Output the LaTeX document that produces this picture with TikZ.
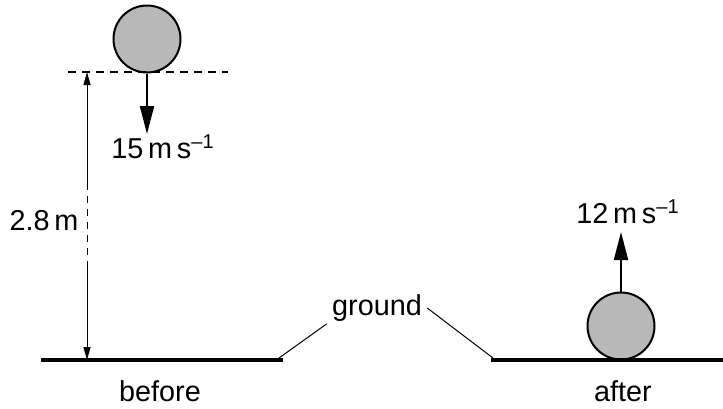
\documentclass[tikz,border=0pt]{standalone}
\usepackage{fontspec}
\setmainfont{Liberation Sans}
\usetikzlibrary{arrows.meta}
\definecolor{ballgray}{HTML}{B8B8B8}

\begin{document}
\begin{tikzpicture}[x=0.5pt,y=-0.5pt]

  \tikzstyle{ball}=[draw,circle,fill=ballgray,line width=1pt,minimum size=33.5pt,inner sep=0]
  \tikzstyle{ground}=[line width=2pt]
  \tikzstyle{velocity}=[line width=1pt,-{Triangle[width=7pt,length=14pt]}]
  \tikzstyle{dimline}=[line width=0.5pt]
  \tikzstyle{leader}=[line width=0.5pt]
  \tikzstyle{label}=[inner sep=1pt,font=\fontsize{14.4}{17}\selectfont]

  \useasboundingbox (0,0) rectangle (723,408);

  \path
  (147,39) node[ball](bt){}
  (621,326) node[ball](ba){};

  \path
  (163,147) node[label](vt){15\,m\,s\textsuperscript{–1}}
  (628,212) node[label](va){12\,m\,s\textsuperscript{–1}}
  (44,221) node[label](h){2.8\,m}
  (377,308) node[label,inner xsep=2.5pt](gr){ground}
  (160,391) node[label](bf){before}
  (623,391) node[label](af){after};

  \coordinate (gl1) at (41,360);
  \coordinate (gl2) at (283,360);
  \coordinate (gr1) at (491,360);
  \coordinate (gr2) at (723,360);
  \coordinate (dl1) at (68,72);
  \coordinate (dl2) at (228,72);
  \coordinate (dt) at (87,72);
  \coordinate (da) at (87,183);
  \coordinate (db) at (87,267);
  \coordinate (dg) at (87,360);
  \coordinate (vtend) at (147,134);
  \coordinate (vaend) at (621,232);
  \coordinate (glead) at (279,358);
  \coordinate (rlead) at (493,358);

  \draw[ground] (gl1)--(gl2);
  \draw[ground] (gr1)--(gr2);

  \draw[dashed,dash pattern=on 4pt off 3pt,line width=0.6pt] (dl1)--(dl2);

  \draw[dimline,{Triangle[width=3.5pt,length=6.5pt]}-] (dt)--(da);
  \draw[dimline,dash pattern=on 3.5pt off 3pt] (da)--(db);
  \draw[dimline,-{Triangle[width=3.5pt,length=6.5pt]}] (db)--(dg);

  \draw[velocity] (bt.south)--(vtend);
  \draw[velocity] (ba.north)--(vaend);

  \draw[leader] (gr.south west)--(glead);
  \draw[leader] (gr.east)--(rlead);
\end{tikzpicture}
\end{document}
